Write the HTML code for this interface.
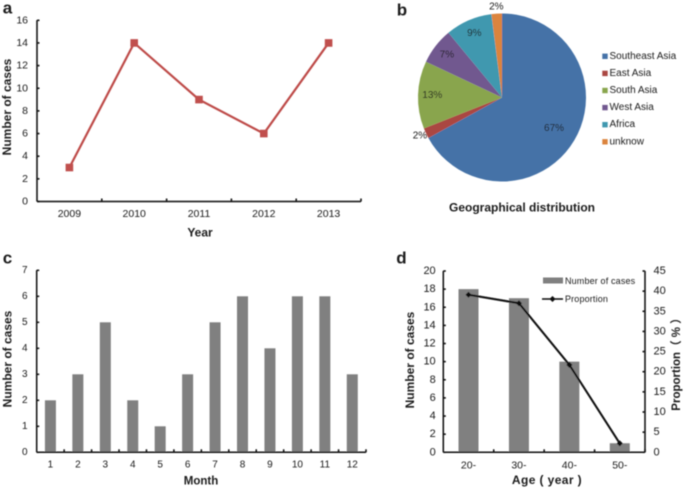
<!DOCTYPE html>
<html>
<head>
<meta charset="utf-8">
<style>
html,body{margin:0;padding:0;background:#fff;width:685px;height:488px;overflow:hidden}
svg{display:block}
text{font-family:"Liberation Sans","Noto Sans CJK SC",sans-serif;fill:#1c1c1c}
</style>
</head>
<body>
<svg id="figure" width="685" height="488" viewBox="0 0 685 488" xmlns="http://www.w3.org/2000/svg">
<defs><filter id="soft" x="-5%" y="-5%" width="110%" height="110%"><feGaussianBlur stdDeviation="0.45"/></filter></defs>
<g id="root" filter="url(#soft)"></g>
</svg>
<script>
// Panel a
const yearCategories = ['2009', '2010', '2011', '2012', '2013'];
const yearCases = [3, 14, 9, 6, 14];
const yearTicks = [0, 2, 4, 6, 8, 10, 12, 14, 16];
// Panel b
const regionNames = ['Southeast Asia', 'East Asia', 'South Asia', 'West Asia', 'Africa', 'unknow'];
const regionPercents = [67, 2, 13, 7, 9, 2];
// Panel c
const monthCategories = ['1', '2', '3', '4', '5', '6', '7', '8', '9', '10', '11', '12'];
const monthCases = [2, 3, 5, 2, 1, 3, 5, 6, 4, 6, 6, 3];
const monthTicks = [0, 1, 2, 3, 4, 5, 6, 7];
// Panel d
const ageCategories = ['20-', '30-', '40-', '50-'];
const ageCases = [18, 17, 10, 1];
const ageProportion = [39.1, 37, 21.7, 2.2];
const ageCaseTicks = [0, 2, 4, 6, 8, 10, 12, 14, 16, 18, 20];
const ageProportionTicks = [0, 5, 10, 15, 20, 25, 30, 35, 40, 45];

const regionColors = ['#4572a7', '#aa4643', '#89a54e', '#71588f', '#4198af', '#db843d'];
const NS = 'http://www.w3.org/2000/svg';
const root = document.getElementById('root');
function mk(tag, attrs, txt) {
  const e = document.createElementNS(NS, tag);
  for (const k in attrs) e.setAttribute(k, attrs[k]);
  if (txt !== undefined) e.textContent = txt;
  root.appendChild(e);
  return e;
}
function line(x1, y1, x2, y2, w) {
  return mk('line', {x1: x1, y1: y1, x2: x2, y2: y2, stroke: '#0a0a0a', 'stroke-width': w || 1.5});
}
function label(x, y, s, size, opts) {
  const o = opts || {};
  const a = {x: x, y: y, 'font-size': size, 'text-anchor': o.anchor || 'middle', 'dominant-baseline': 'central'};
  if (o.bold) a['font-weight'] = 'bold';
  if (o.rotate) a.transform = 'rotate(-90 ' + x + ' ' + y + ')';
  if (o.spacing) a['letter-spacing'] = o.spacing;
  return mk('text', a, s);
}
let el;

// Panel letters
[['a', 7.5, 8], ['b', 402, 10], ['c', 7.5, 258], ['d', 401.5, 258]].forEach(function (p) {
  el = label(p[1], p[2], p[0], 17, {bold: true});
  
  
});

/* ---------- Panel a ---------- */
const aLeft = 37, aRight = 361, aTop = 20.3, aBottom = 201.5;
const aY = function (v) { return aBottom - v / 16 * (aBottom - aTop); };
const aBand = (aRight - aLeft) / yearCategories.length;
const aX = function (i) { return aLeft + aBand * (i + 0.5); };
el = line(aLeft, aTop, aLeft, aBottom);


el = line(aLeft, aBottom, aRight, aBottom);


yearTicks.forEach(function (t) {
  el = line(aLeft, aY(t), aLeft + 2.5, aY(t));
  
  
  el = label(28, aY(t), String(t), 10.5, {anchor: 'end'});
  
  
});
yearCategories.forEach(function (c, i) {
  el = line(aLeft + aBand * (i + 1), aBottom, aLeft + aBand * (i + 1), aBottom - 3);
  
  
  el = label(aX(i), 214, c, 10.5);
  
  
});
el = label(200, 232.5, 'Year', 12, {bold: true});


el = label(7, 107, 'Number of cases', 12, {bold: true, rotate: true});


el = mk('polyline', {points: yearCases.map(function (v, i) { return aX(i) + ',' + aY(v); }).join(' '), fill: 'none', stroke: '#be4b48', 'stroke-width': 2.2});


yearCases.forEach(function (v, i) {
  el = mk('rect', {x: aX(i) - 3.8, y: aY(v) - 3.8, width: 7.6, height: 7.6, fill: '#c0504d'});
  
  
});

/* ---------- Panel b ---------- */
const pieX = 502, pieY = 97.5, pieR = 84;
const total = regionPercents.reduce(function (a, b) { return a + b; }, 0);
let cumulative = 0;
regionPercents.forEach(function (v, i) {
  const a0 = cumulative / total * 2 * Math.PI;
  cumulative += v;
  const a1 = cumulative / total * 2 * Math.PI;
  const d = 'M' + pieX + ' ' + pieY +
    'L' + (pieX + pieR * Math.sin(a0)) + ' ' + (pieY - pieR * Math.cos(a0)) +
    'A' + pieR + ' ' + pieR + ' 0 ' + (a1 - a0 > Math.PI ? 1 : 0) + ' 1 ' +
    (pieX + pieR * Math.sin(a1)) + ' ' + (pieY - pieR * Math.cos(a1)) + 'Z';
  el = mk('path', {d: d, fill: regionColors[i]});
  
  
});
cumulative = 0;
regionPercents.forEach(function (v, i) {
  const mid = (cumulative + v / 2) / total * 2 * Math.PI;
  cumulative += v;
  const f = v <= 2 ? 1.08 : (v > 50 ? 0.72 : 0.83);
  el = label(pieX + pieR * f * Math.sin(mid), pieY - pieR * f * Math.cos(mid), v + '%', 10);
  
  
});
regionNames.forEach(function (n, i) {
  const ly = 56.3 + i * 17.1;
  el = mk('rect', {x: 602.3, y: ly - 2.7, width: 5.4, height: 5.4, fill: regionColors[i]});
  
  
  el = label(609.5, ly, n, 10, {anchor: 'start'});
  
  
});
el = label(522, 207.5, 'Geographical distribution', 12, {bold: true});



/* ---------- Panel c ---------- */
const cLeft = 36.7, cRight = 366, cTop = 270.3, cBottom = 452.3;
const cY = function (v) { return cBottom - v / 7 * (cBottom - cTop); };
const cBand = (cRight - cLeft) / monthCategories.length;
const cX = function (i) { return cLeft + cBand * (i + 0.5); };
monthCases.forEach(function (v, i) {
  el = mk('rect', {x: cX(i) - 5.5, y: cY(v), width: 11, height: cBottom - cY(v), fill: '#808080'});
  
  
});
el = line(cLeft, cTop, cLeft, cBottom);


el = line(cLeft, cBottom, cRight, cBottom);


monthTicks.forEach(function (t) {
  el = line(cLeft, cY(t), cLeft + 2.5, cY(t));
  
  
  el = label(27.5, cY(t), String(t), 10, {anchor: 'end'});
  
  
});
monthCategories.forEach(function (c, i) {
  el = line(cLeft + cBand * (i + 1), cBottom, cLeft + cBand * (i + 1), cBottom - 3);
  
  
  el = label(cX(i), 465, c, 10);
  
  
});
el = label(201, 481.5, 'Month', 11.5, {bold: true});


el = label(7.5, 359, 'Number of cases', 12, {bold: true, rotate: true});



/* ---------- Panel d ---------- */
const dLeft = 443.3, dRight = 645, dTop = 271, dBottom = 452.3;
const dY = function (v) { return dBottom - v / 20 * (dBottom - dTop); };
const dY2 = function (v) { return dBottom - v / 45 * (dBottom - dTop); };
const dBand = (dRight - dLeft) / ageCategories.length;
const dX = function (i) { return dLeft + dBand * (i + 0.5); };
ageCases.forEach(function (v, i) {
  el = mk('rect', {x: dX(i) - 10, y: dY(v), width: 20, height: dBottom - dY(v), fill: '#808080'});
  
  
});
el = line(dLeft, dTop, dLeft, dBottom);


el = line(dRight, dTop, dRight, dBottom);


el = line(dLeft, dBottom, dRight, dBottom);


ageCaseTicks.forEach(function (t) {
  el = line(dLeft, dY(t), dLeft + 2.5, dY(t));
  
  
  el = label(435.7, dY(t), String(t), 11, {anchor: 'end'});
  
  
});
ageProportionTicks.forEach(function (t) {
  el = line(dRight, dY2(t), dRight - 2.5, dY2(t));
  
  
  el = label(653.5, dY2(t), String(t), 11, {anchor: 'start'});
  
  
});
ageCategories.forEach(function (c, i) {
  el = line(dLeft + dBand * (i + 1), dBottom, dLeft + dBand * (i + 1), dBottom - 3);
  
  
  el = label(dX(i), 465.5, c, 10.5);
  
  
});
el = mk('polyline', {points: ageProportion.map(function (v, i) { return dX(i) + ',' + dY2(v); }).join(' '), fill: 'none', stroke: '#0a0a0a', 'stroke-width': 2});


ageProportion.forEach(function (v, i) {
  const x = dX(i), y = dY2(v);
  el = mk('polygon', {points: [x - 3, y, x, y - 3, x + 3, y, x, y + 3].join(' '), fill: '#0a0a0a'});
  
  
});
el = label(547, 480, 'Age ( year )', 12, {bold: true, spacing: '0.4'});


el = label(410, 360, 'Number of cases', 12, {bold: true, rotate: true});


el = label(677, 361.5, 'Proportion（ % ）', 11.5, {bold: true, rotate: true});


el = mk('rect', {x: 543, y: 277.5, width: 20, height: 6, fill: '#808080'});


el = label(565, 281, 'Number of cases', 9, {anchor: 'start', spacing: '0.15'});


el = line(542, 299, 563, 299, 1.6);


el = mk('polygon', {points: '549.5,299 552.5,296 555.5,299 552.5,302', fill: '#0a0a0a'});


el = label(565, 299, 'Proportion', 9, {anchor: 'start', spacing: '0.15'});


</script>
</body>
</html>
